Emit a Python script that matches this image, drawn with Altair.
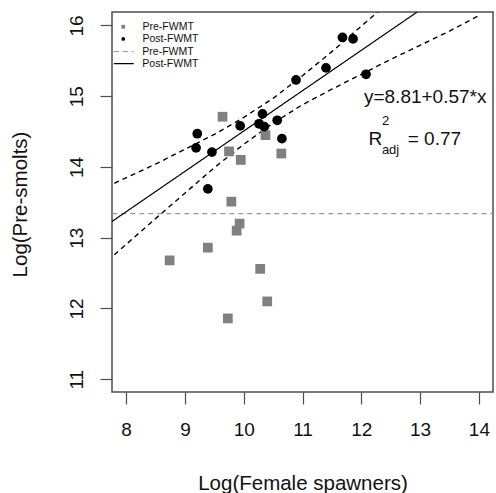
import altair as alt
import pandas as pd

FONT = "Liberation Sans"

# Pre-FWMT (grey squares)
pre_x = [9.64, 10.37, 9.75, 9.95, 10.64, 9.79, 9.93, 9.88, 9.39, 8.74, 10.28, 10.40, 9.73]
pre_y = [14.71, 14.45, 14.22, 14.10, 14.19, 13.51, 13.20, 13.10, 12.86, 12.68, 12.56, 12.10, 11.86]
# Post-FWMT (black circles)
post_x = [11.68, 11.86, 11.40, 10.89, 12.08, 10.32, 10.26, 10.35, 10.57, 9.94, 9.21, 9.19, 9.46, 10.65, 9.39]
post_y = [15.83, 15.81, 15.40, 15.23, 15.31, 14.75, 14.61, 14.57, 14.66, 14.58, 14.47, 14.27, 14.21, 14.40, 13.69]

# reference lines: Pre-FWMT mean (grey dashed), Post-FWMT regression (solid)
pre_line_x = [7.0, 15.0]
pre_line_y = [13.34, 13.34]
post_line_x = [7.76, 12.95]
post_line_y = [13.23, 16.19]

# confidence band (dashed)
ci_x = [7.8, 8.5, 9.0, 9.5, 10.0, 10.5, 11.0, 11.5, 12.0, 12.5, 13.0, 13.5, 14.0]
ci_upper = [13.77, 14.04, 14.25, 14.46, 14.70, 14.97, 15.29, 15.63, 15.99, 16.35, None, None, None]
ci_lower = [12.76, 13.27, 13.63, 13.99, 14.32, 14.62, 14.88, 15.10, 15.31, 15.52, 15.72, 15.92, 16.14]

groups = ["Pre-FWMT", "Post-FWMT"]

pts = pd.DataFrame(
    {"x": pre_x + post_x, "y": pre_y + post_y,
     "period": [groups[0]] * len(pre_x) + [groups[1]] * len(post_x)}
)
lines = pd.DataFrame(
    {"x": pre_line_x + post_line_x, "y": pre_line_y + post_line_y,
     "line": [groups[0]] * 2 + [groups[1]] * 2}
)
ci_rows = []
for xv, u, l in zip(ci_x, ci_upper, ci_lower):
    if u is not None:
        ci_rows.append({"x": xv, "y": u, "band": "upper"})
    ci_rows.append({"x": xv, "y": l, "band": "lower"})
ci = pd.DataFrame(ci_rows)

big_text = pd.DataFrame({"t": ["y=8.81+0.57*x", "R", "= 0.77"],
                         "x": [12.045, 12.122, 12.79],
                         "y": [14.90, 14.31, 14.31]})
small_text = pd.DataFrame({"t": ["2", "adj"],
                           "x": [12.35, 12.35],
                           "y": [14.60, 14.19]})

xs = alt.Scale(domain=[7.76, 14.24], nice=False, zero=False)
ys = alt.Scale(domain=[10.82, 16.19], nice=False, zero=False)

xax = alt.Axis(values=[8, 9, 10, 11, 12, 13, 14], format="d", title="Log(Female spawners)",
               grid=False, domain=False, tickSize=12, tickColor="#4d4d4d", tickWidth=1.2,
               labelFontSize=19, labelPadding=16, labelColor="#111", labelFont=FONT,
               titleFontSize=20.5, titleFont=FONT, titleFontWeight="normal", titleColor="#111",
               titleBaseline="alphabetic", titleY=97)
yax = alt.Axis(values=[11, 12, 13, 14, 15, 16], format="d", title="Log(Pre-smolts)",
               grid=False, domain=False, tickSize=12, tickColor="#4d4d4d", tickWidth=1.2,
               labelFontSize=19, labelPadding=24, labelColor="#111", labelFont=FONT,
               labelAngle=270, labelAlign="center", labelBaseline="middle",
               titleFontSize=20.5, titleFont=FONT, titleFontWeight="normal", titleColor="#111",
               titleAngle=270, titleAlign="center", titleBaseline="middle",
               titleX=-92, titleY=192)

base_x = alt.X("x:Q", scale=xs, axis=xax)
base_y = alt.Y("y:Q", scale=ys, axis=yax)

leg1 = dict(title=None, orient="none", legendX=6, legendY=9.5,
            symbolSize=14, labelOffset=14, rowPadding=1.2,
            labelFontSize=10.5, labelFont=FONT, labelColor="#111", padding=0)
leg2 = dict(title=None, orient="none", legendX=5.3, legendY=33,
            symbolType="M-1.75,0L1.75,0", symbolSize=130, symbolStrokeWidth=1.2,
            symbolFillColor="transparent", labelOffset=12,
            rowPadding=0.2, labelFontSize=10.5, labelFont=FONT, labelColor="#111", padding=0)

points = alt.Chart(pts).mark_point(filled=True, size=95, opacity=1, strokeWidth=0).encode(
    x=base_x, y=base_y,
    shape=alt.Shape("period:N", scale=alt.Scale(domain=groups, range=["square", "circle"]),
                    legend=alt.Legend(**leg1)),
    color=alt.Color("period:N", scale=alt.Scale(domain=groups, range=["#808080", "#000000"]),
                    legend=alt.Legend(**leg1)),
)

ref_lines = alt.Chart(lines).mark_line(clip=True, strokeWidth=1.2).encode(
    x="x:Q", y="y:Q",
    strokeDash=alt.StrokeDash("line:N", scale=alt.Scale(domain=groups, range=[[5, 4], [1, 0]]),
                              legend=alt.Legend(**leg2)),
    color=alt.Color("line:N", scale=alt.Scale(domain=groups, range=["#999999", "#000000"]),
                    legend=alt.Legend(**leg2)),
)

band = alt.Chart(ci).mark_line(clip=True, color="black", strokeWidth=1.4, strokeDash=[5, 4]).encode(
    x="x:Q", y="y:Q", detail="band:N"
)

t_big = alt.Chart(big_text).mark_text(align="left", baseline="alphabetic", fontSize=19,
                                      font=FONT, color="#111").encode(x="x:Q", y="y:Q", text="t:N")
t_small = alt.Chart(small_text).mark_text(align="left", baseline="alphabetic", fontSize=13,
                                          font=FONT, color="#111").encode(x="x:Q", y="y:Q", text="t:N")

chart = alt.layer(band, ref_lines, points, t_big, t_small).resolve_scale(
    color="independent", shape="independent", strokeDash="independent"
).resolve_legend(color="independent", shape="independent", strokeDash="independent").properties(
    width=381, height=380,
    autosize=alt.AutoSizeParams(type="none"),
    padding={"left": 112, "top": 12, "right": 3, "bottom": 101},
    background="white",
).configure_view(stroke="#4d4d4d", strokeWidth=1.5)

chart.save("out.html", embed_options={"renderer": "svg", "actions": False})
